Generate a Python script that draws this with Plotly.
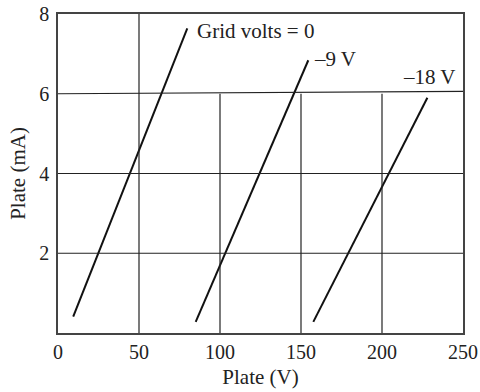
import plotly.graph_objects as go

# Characteristic lines: plate voltage (V) vs plate current (mA)
grid_labels = ["Grid volts = 0", "–9 V", "–18 V"]
v_grid0 = [9.4, 79.8]
i_grid0 = [0.41, 7.64]
v_grid9 = [85.0, 154.5]
i_grid9 = [0.28, 6.84]
v_grid18 = [157.6, 228.0]
i_grid18 = [0.28, 5.90]

label_x = [84.6, 156.5, 212.0]
label_y = [7.58, 6.88, 6.41]

x_ticks = [0, 50, 100, 150, 200, 250]
y_ticks = [2, 4, 6, 8]

# hand-drawn grid of the original
vgrid_full = [50]
vgrid_lower = [100, 150, 200]
hgrid = [2, 4]
hline6_y = [6.0, 6.06]

FONT = "Liberation Serif"
fig = go.Figure()
for xs, ys in [(v_grid0, i_grid0), (v_grid9, i_grid9), (v_grid18, i_grid18)]:
    fig.add_trace(go.Scatter(x=xs, y=ys, mode="lines",
                             line=dict(color="#111111", width=2),
                             showlegend=False, hoverinfo="skip"))

shapes = []
for xv in vgrid_full:
    shapes.append(dict(type="line", x0=xv, x1=xv, y0=0, y1=8, xref="x", yref="y",
                       line=dict(color="#222222", width=1.2)))
for xv in vgrid_lower:
    shapes.append(dict(type="line", x0=xv, x1=xv, y0=0, y1=6, xref="x", yref="y",
                       line=dict(color="#222222", width=1.2)))
for yv in hgrid:
    shapes.append(dict(type="line", x0=0, x1=250, y0=yv, y1=yv, xref="x", yref="y",
                       line=dict(color="#222222", width=1.2)))
shapes.append(dict(type="line", x0=0, x1=250, y0=hline6_y[0], y1=hline6_y[1],
                   xref="x", yref="y", line=dict(color="#222222", width=1.2)))

annotations = []
for t, ax, ay in zip(grid_labels, label_x, label_y):
    annotations.append(dict(text=t, x=ax, y=ay, xref="x", yref="y", showarrow=False,
                            xanchor="left", yanchor="middle",
                            font=dict(family=FONT, size=21, color="#222222")))

fig.update_layout(
    width=480, height=392,
    margin=dict(l=58, r=17, t=14, b=59),
    paper_bgcolor="white", plot_bgcolor="white",
    shapes=shapes, annotations=annotations,
    font=dict(family=FONT, color="#222222"),
    xaxis=dict(range=[0, 250], tickvals=x_ticks, showgrid=False, zeroline=False,
               showline=True, mirror=True, linecolor="#444444", linewidth=1.5,
               ticks="", automargin=False,
               tickfont=dict(family=FONT, size=20, color="#222222"),
               title=dict(text="Plate (V)", font=dict(family=FONT, size=21, color="#222222"),
                          standoff=8)),
    yaxis=dict(range=[0, 8], tickvals=y_ticks, showgrid=False, zeroline=False,
               showline=True, mirror=True, linecolor="#444444", linewidth=1.5,
               ticks="", ticklabelstandoff=3, automargin=False,
               tickfont=dict(family=FONT, size=20, color="#222222"),
               title=dict(text="Plate (mA)", font=dict(family=FONT, size=21, color="#222222"),
                          standoff=8)),
)

fig.write_html("out.html", config={"displayModeBar": False},
               post_script="document.body.style.margin='0';document.body.style.overflow='hidden';")
